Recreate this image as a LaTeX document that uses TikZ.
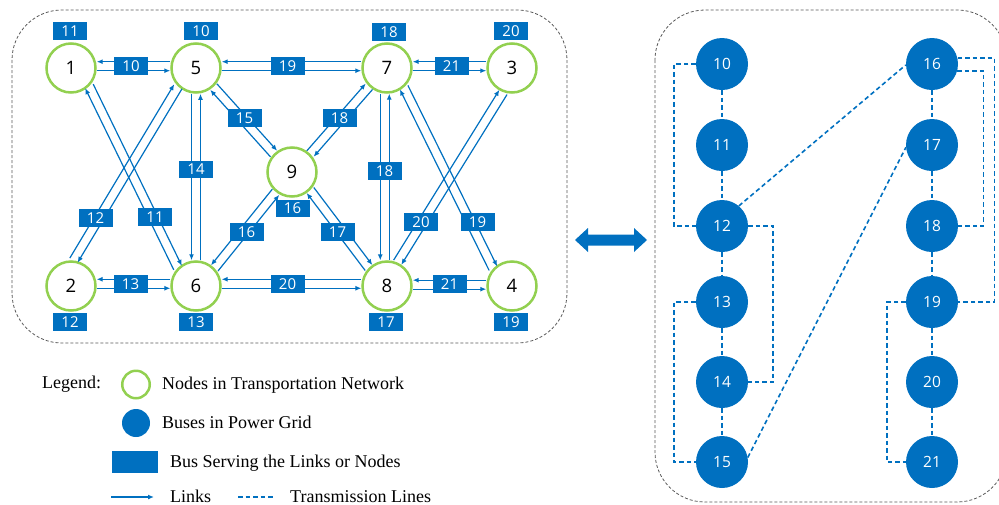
\documentclass[tikz,border=0pt]{standalone}
\usepackage{fontspec}
\setmainfont{Liberation Serif}
\newfontfamily\uifont{Open Sans}
\usetikzlibrary{calc,arrows.meta}
\definecolor{bblue}{HTML}{0070C0}
\definecolor{tgreen}{HTML}{92D050}
\newcommand{\twowayR}[4]{%
  \coordinate (P) at (#1.#2); \coordinate (Q) at (#3.#4);
  \draw[link] ($(P)!4.5pt!-90:(Q)$) -- ($(Q)!4.5pt!90:(P)$);
  \draw[link] ($(Q)!4.5pt!-90:(P)$) -- ($(P)!4.5pt!90:(Q)$);
}
\newcommand{\twowayL}[4]{%
  \coordinate (P) at (#1.#2); \coordinate (Q) at (#3.#4);
  \draw[link] ($(P)!4.5pt!90:(Q)$) -- ($(Q)!4.5pt!-90:(P)$);
  \draw[link] ($(Q)!4.5pt!90:(P)$) -- ($(P)!4.5pt!-90:(Q)$);
}
\begin{document}
\begin{tikzpicture}[x=1pt,y=-1pt,
 tnode/.style={circle,draw=tgreen,line width=2.5pt,minimum size=49pt,inner sep=0pt,font=\uifont\fontsize{18.5}{20}\selectfont},
 pbus/.style={circle,fill=bblue,minimum size=52pt,inner sep=0pt,text=white,font=\uifont\fontsize{15.5}{17}\selectfont},
 tag/.style={rectangle,fill=bblue,minimum width=34pt,minimum height=17.5pt,inner sep=0pt,text=white,font=\uifont\fontsize{15}{16}\selectfont},
 link/.style={draw=bblue,line width=1.2pt,-{Latex[length=6pt,width=5pt]}},
 tline/.style={draw=bblue,line width=1.6pt,dash pattern=on 4.5pt off 3pt},
 panel/.style={draw=black!65,line width=0.8pt,dash pattern=on 3pt off 2pt,rounded corners=50pt},
 legtext/.style={anchor=base west,font=\fontsize{18}{20}\selectfont,inner sep=0pt}
]
\useasboundingbox (0,0) rectangle (999,504);

% panels
\draw[panel] (12,10) rectangle (567,343);
\draw[panel] (655,10) rectangle (1007,502);

% transportation nodes
\node[tnode] (n1) at (71,68) {1};
\node[tnode] (n5) at (196,68) {5};
\node[tnode] (n7) at (387,68) {7};
\node[tnode] (n3) at (512,68) {3};
\node[tnode] (n2) at (71,286) {2};
\node[tnode] (n6) at (196,286) {6};
\node[tnode] (n8) at (387,286) {8};
\node[tnode] (n4) at (512,286) {4};
\node[tnode] (n9) at (292,172) {9};

% links
\twowayR{n1}{4}{n5}{176}
\twowayR{n5}{4}{n7}{176}
\twowayR{n7}{4}{n3}{176}
\twowayR{n2}{5}{n6}{175}
\twowayR{n6}{5}{n8}{175}
\twowayR{n8}{3}{n4}{177}
\twowayR{n5}{-90}{n6}{90}
\twowayR{n7}{265}{n8}{95}
\twowayL{n1}{-45}{n6}{135}
\twowayL{n2}{84}{n5}{226}
\twowayL{n5}{-47}{n9}{135}
\twowayL{n9}{45}{n7}{226}
\twowayR{n6}{44}{n9}{231}
\twowayL{n9}{-45}{n8}{135}
\twowayL{n7}{-49}{n4}{137}
\twowayL{n8}{66}{n3}{250}

% node tags
\node[tag] (a1) at (70,31) {11};
\node[tag] (a5) at (201,31) {10};
\node[tag] (a7) at (389,32) {18};
\node[tag] (a3) at (511,31) {20};
\node[tag] (a2) at (70,322) {12};
\node[tag] (a6) at (196,322) {13};
\node[tag] (a8) at (386,322) {17};
\node[tag] (a4) at (511,322) {19};
\node[tag] (a9) at (292.5,208.5) {16};

% link tags
\node[tag] (l15) at (131,66) {10};
\node[tag] (l57) at (287.5,66) {19};
\node[tag] (l73) at (451.5,66) {21};
\node[tag] (l26) at (130.5,284) {13};
\node[tag] (l68) at (287.5,284) {20};
\node[tag] (l84) at (449.5,284) {21};
\node[tag] (l56) at (196,169.5) {14};
\node[tag] (l78) at (384.5,171) {18};
\node[tag] (l16) at (155,217) {11};
\node[tag] (l25) at (95.5,218) {12};
\node[tag] (l59) at (244.5,118) {15};
\node[tag] (l97) at (339.5,118) {18};
\node[tag] (l69) at (246.5,232) {16};
\node[tag] (l98) at (337.5,232) {17};
\node[tag] (l74) at (477.5,222) {19};
\node[tag] (l83) at (421,222) {20};

% double arrow
\fill[bblue] (575,240) -- (588,228) -- (588,234.5) -- (634,234.5) -- (634,228) -- (647,240)
  -- (634,252) -- (634,245.5) -- (588,245.5) -- (588,252) -- cycle;

% power buses
\node[pbus] (p10) at (722,64) {10};
\node[pbus] (p11) at (722,145) {11};
\node[pbus] (p12) at (722,226) {12};
\node[pbus] (p13) at (722,302) {13};
\node[pbus] (p14) at (722,382) {14};
\node[pbus] (p15) at (722,462) {15};
\node[pbus] (p16) at (932,64) {16};
\node[pbus] (p17) at (932,145) {17};
\node[pbus] (p18) at (932,226) {18};
\node[pbus] (p19) at (932,302) {19};
\node[pbus] (p20) at (932,382) {20};
\node[pbus] (p21) at (932,462) {21};

% transmission lines
\draw[tline] (p10.south) -- (p11.north);
\draw[tline] (p11.south) -- (p12.north);
\draw[tline] (p12.south) -- (p13.north);
\draw[tline] (p13.south) -- (p14.north);
\draw[tline] (p14.south) -- (p15.north);
\draw[tline] (p16.south) -- (p17.north);
\draw[tline] (p17.south) -- (p18.north);
\draw[tline] (p18.south) -- (p19.north);
\draw[tline] (p19.south) -- (p20.north);
\draw[tline] (p20.south) -- (p21.north);
\draw[tline] (p10.west) -- ++(-22,0) |- (p12.west);
\draw[tline] (p12.east) -- ++(25,0) |- (p14.east);
\draw[tline] (p13.west) -- ++(-22,0) |- (p15.west);
\draw[tline] (p12.50) -- (p16.182);
\draw[tline] (p15.10) -- (p17.185);
\draw[tline] (p16.13) -- ++(37,0) |- (p19.east);
\draw[tline] (p16.-15) -- ++(26,0) |- (p18.east);
\draw[tline] (p19.west) -- ++(-19,0) |- (p21.west);

% legend
\node[legtext] (lgt) at (42,388) {Legend:};
\node[circle,draw=tgreen,line width=2.5pt,minimum size=27.5pt,inner sep=0pt] (lg1) at (136,384.5) {};
\node[legtext] (lg1t) at (162,389) {Nodes in Transportation Network};
\node[circle,fill=bblue,minimum size=28pt,inner sep=0pt] (lg2) at (136,423) {};
\node[legtext] (lg2t) at (162,428) {Buses in Power Grid};
\node[rectangle,fill=bblue,minimum width=46pt,minimum height=22pt,inner sep=0pt] (lg3) at (135,462) {};
\node[legtext] (lg3t) at (170,467) {Bus Serving the Links or Nodes};
\coordinate (la1) at (111,497); \coordinate (la2) at (154,497);
\draw[link] (la1) -- (la2);
\node[legtext] (lg4t) at (170,502) {Links};
\coordinate (ld1) at (238,497); \coordinate (ld2) at (275,497);
\draw[tline,line width=1.2pt] (ld1) -- (ld2);
\node[legtext] (lg5t) at (290,502) {Transmission Lines};
\end{tikzpicture}
\end{document}
